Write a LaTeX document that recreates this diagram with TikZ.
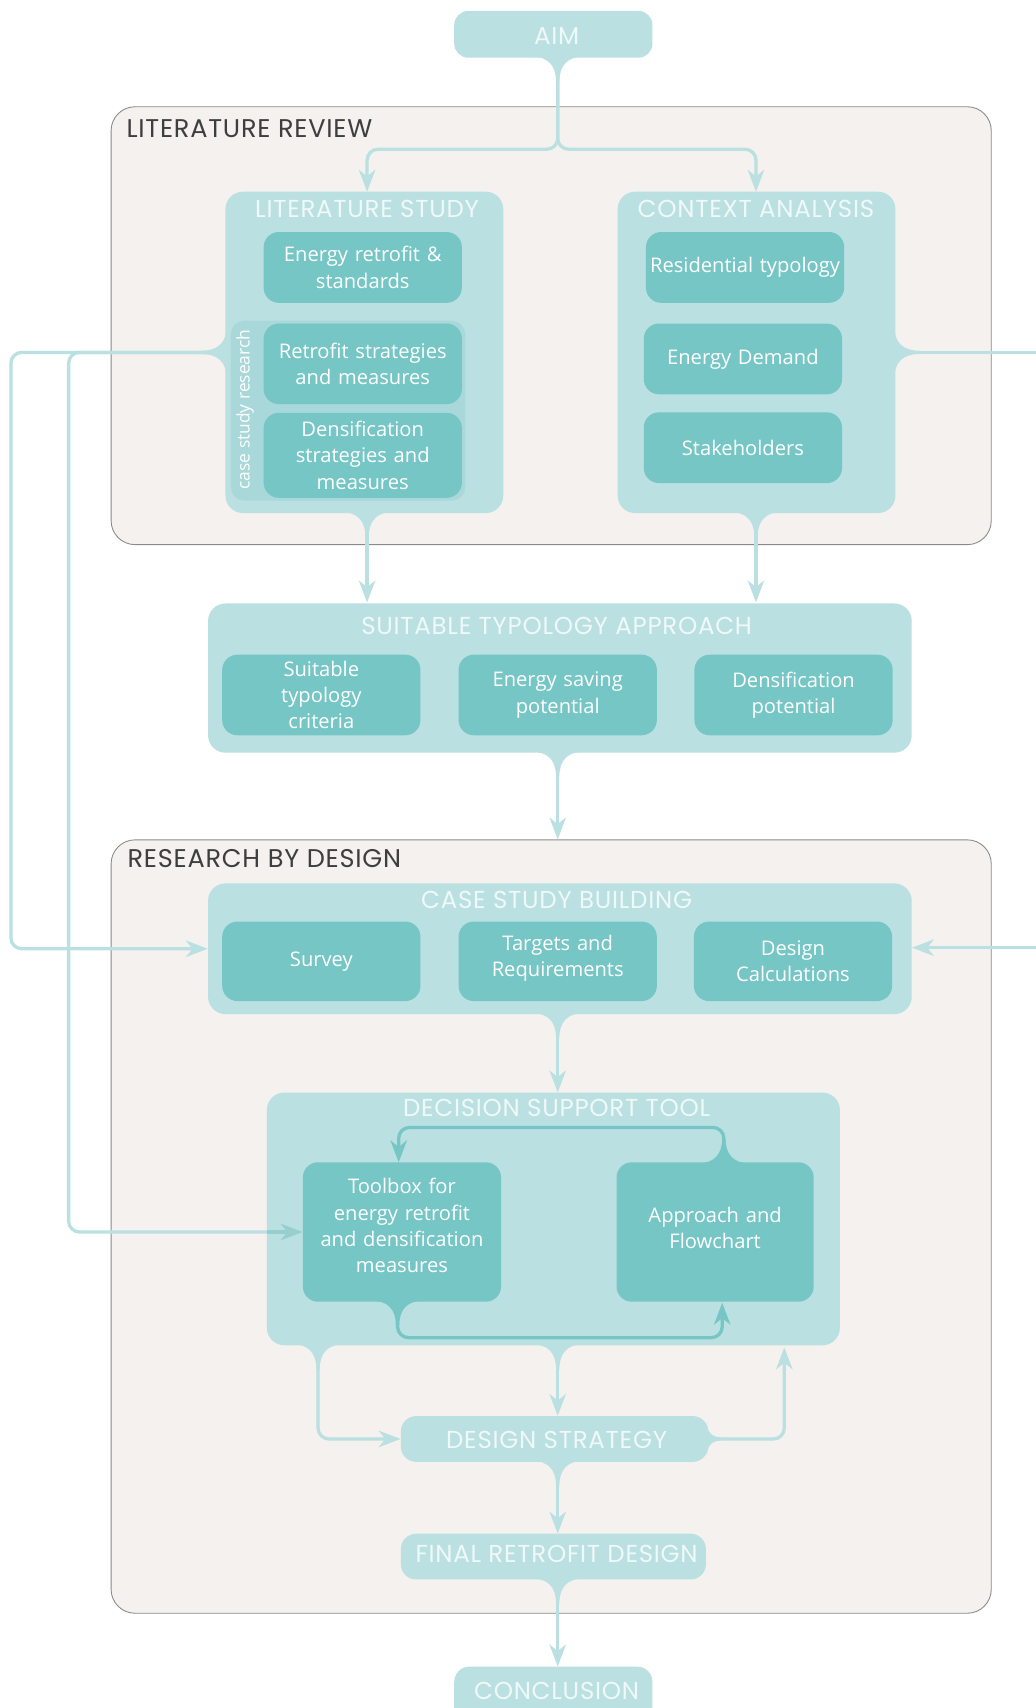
\documentclass[tikz,border=0pt]{standalone}
\usepackage{fontspec}
\setmainfont{Open Sans}
\newfontfamily\titlefont{Poppins}[LetterSpace=3]
\usetikzlibrary{arrows.meta}
\definecolor{panelbg}{HTML}{F4F1EE}
\definecolor{panelln}{HTML}{8A8A8A}
\definecolor{lteal}{HTML}{BAE0E1}
\definecolor{dteal}{HTML}{76C6C6}
\definecolor{mteal}{HTML}{A8D8D9}
\definecolor{ttxt}{HTML}{F0F8F8}
\definecolor{dtxt}{HTML}{3E3E3E}
\definecolor{arrmid}{HTML}{96CFCF}
\newcommand\bodyfont{\fontsize{18.5}{24}\selectfont}
\newcommand\ttlfont{\titlefont\fontsize{22.5}{26}\selectfont}
\newcommand\pttlfont{\titlefont\fontsize{23.5}{27}\selectfont}
% flares: x, y, colour
\newcommand\flD[3]{\fill[#3] (#1-24,#2-1) .. controls (#1-9,#2-1) and (#1-1.5,#2+7) .. (#1-1.5,#2+22) -- (#1+1.5,#2+22) .. controls (#1+1.5,#2+7) and (#1+9,#2-1) .. (#1+24,#2-1) -- cycle;}
\newcommand\flU[3]{\fill[#3] (#1-24,#2+1) .. controls (#1-9,#2+1) and (#1-1.5,#2-7) .. (#1-1.5,#2-22) -- (#1+1.5,#2-22) .. controls (#1+1.5,#2-7) and (#1+9,#2+1) .. (#1+24,#2+1) -- cycle;}
\newcommand\flL[3]{\fill[#3] (#1+1,#2-24) .. controls (#1+1,#2-9) and (#1-7,#2-1.5) .. (#1-22,#2-1.5) -- (#1-22,#2+1.5) .. controls (#1-7,#2+1.5) and (#1+1,#2+9) .. (#1+1,#2+24) -- cycle;}
\newcommand\flR[3]{\fill[#3] (#1-1,#2-24) .. controls (#1-1,#2-9) and (#1+7,#2-1.5) .. (#1+22,#2-1.5) -- (#1+22,#2+1.5) .. controls (#1+7,#2+1.5) and (#1-1,#2+9) .. (#1-1,#2+24) -- cycle;}
\newcommand\flRs[3]{\fill[#3] (#1-1,#2-15) .. controls (#1-1,#2-6) and (#1+4,#2-1.5) .. (#1+12,#2-1.5) -- (#1+12,#2+1.5) .. controls (#1+4,#2+1.5) and (#1-1,#2+6) .. (#1-1,#2+15) -- cycle;}
\tikzset{
  panel/.style={draw=panelln, fill=panelbg, line width=0.8pt, rounded corners=22pt, inner sep=0pt},
  ptitle/.style={text=dtxt, font=\pttlfont, inner sep=0pt, anchor=west},
  grp/.style={fill=lteal, rounded corners=16pt, inner sep=0pt},
  gtitle/.style={text=ttxt, font=\ttlfont, inner sep=0pt},
  item/.style={fill=dteal, rounded corners=14pt, inner sep=0pt, text=white, align=center,
     font=\bodyfont, text width=180pt},
  conn/.style={draw=lteal, line width=3pt},
  loopc/.style={draw=dteal, line width=3pt},
  tip/.style={-{Stealth[length=20pt,width=15pt,inset=6pt]}},
}
\begin{document}
\begin{tikzpicture}[x=1pt,y=-1pt]
\useasboundingbox (0,0) rectangle (951,1568);
\clip (0,0) rectangle (951,1568);
\fill[white] (0,0) rectangle (951,1568);
\coordinate (axis) at (512,0);

% panels
\node[panel, minimum width=808pt, minimum height=402pt] (litrev) at (506,299) {};
\node[ptitle] (litrev-t) at (116,118) {LITERATURE REVIEW};
\node[panel, minimum width=808pt, minimum height=710pt] (rbd) at (506,1126) {};
\node[ptitle] (rbd-t) at (117,788) {RESEARCH BY DESIGN};

% AIM
\node[grp, rounded corners=13pt, minimum width=182pt, minimum height=43pt] (aim) at (508,31.5) {};
\node[gtitle] (aim-t) at (511,33) {AIM};

% literature study
\node[grp, minimum width=255pt, minimum height=295pt] (litstudy) at (334.5,323.5) {};
\node[gtitle] (litstudy-t) at (337,192) {LITERATURE STUDY};
\node[item, minimum width=182pt, minimum height=65pt] (e1) at (333,245.5) {Energy retrofit \&\\standards};
\node[fill=mteal, rounded corners=12pt, minimum width=215pt, minimum height=165pt, inner sep=0pt] (csr) at (319.5,377) {};
\node[rotate=90, text=white, font=\fontsize{16}{18}\selectfont, inner sep=0pt] (csr-t) at (225,376) {case study research};
\node[item, minimum width=182pt, minimum height=74pt] (e2) at (333,334) {Retrofit strategies\\and measures};
\node[item, minimum width=182pt, minimum height=78pt] (e3) at (333,418) {Densification\\strategies and\\measures};

% context analysis
\node[grp, minimum width=255pt, minimum height=295pt] (ctx) at (694.5,323.5) {};
\node[gtitle] (ctx-t) at (694,192) {CONTEXT ANALYSIS};
\node[item, minimum width=182pt, minimum height=65pt] (c1) at (684,245.5) {Residential typology};
\node[item, minimum width=182pt, minimum height=65pt] (c2) at (682,329.5) {Energy Demand};
\node[item, minimum width=182pt, minimum height=65pt] (c3) at (682,411) {Stakeholders};

% suitable typology approach
\node[grp, minimum width=646pt, minimum height=137pt] (sta) at (514,622.5) {};
\node[gtitle] (sta-t) at (511,575) {SUITABLE TYPOLOGY APPROACH};
\node[item, minimum width=182pt, minimum height=74pt] (s1) at (295,638) {Suitable\\typology\\criteria};
\node[item, minimum width=182pt, minimum height=74pt] (s2) at (512,638) {Energy saving\\potential};
\node[item, minimum width=182pt, minimum height=74pt] (s3) at (728.5,638) {Densification\\potential};

% case study building
\node[grp, minimum width=646pt, minimum height=120pt] (csb) at (514,871) {};
\node[gtitle] (csb-t) at (511,826) {CASE STUDY BUILDING};
\node[item, minimum width=182pt, minimum height=73pt] (b1) at (295,882.5) {Survey};
\node[item, minimum width=182pt, minimum height=73pt] (b2) at (512,882.5) {Targets and\\Requirements\\[-14pt]\mbox{}};
\node[item, minimum width=182pt, minimum height=73pt] (b3) at (728,882.5) {Design\\Calculations};

% decision support tool
\node[grp, minimum width=526pt, minimum height=232pt] (dst) at (508,1119) {};
\node[gtitle] (dst-t) at (511,1017) {DECISION SUPPORT TOOL};
\node[item, minimum width=182pt, minimum height=128pt] (toolbox) at (369,1131) {Toolbox for\\energy retrofit\\and densification\\measures\\[-12pt]\mbox{}};
\node[item, minimum width=181pt, minimum height=128pt] (appr) at (656.5,1131) {Approach and\\Flowchart\\[-16pt]\mbox{}};

% design strategy, final, conclusion
\node[grp, rounded corners=14pt, minimum width=282pt, minimum height=42pt] (ds) at (509,1321) {};
\node[gtitle] (ds-t) at (511,1322) {DESIGN STRATEGY};
\node[grp, rounded corners=14pt, minimum width=280pt, minimum height=42pt] (frd) at (508,1429) {};
\node[gtitle] (frd-t) at (511,1427) {FINAL RETROFIT DESIGN};
\node[grp, rounded corners=14pt, minimum width=182pt, minimum height=56pt] (concl) at (508,1558) {};
\node[gtitle] (concl-t) at (511,1552) {CONCLUSION};

% flares
\flD{512}{53}{lteal}
\flD{337}{471}{lteal}
\flD{694}{471}{lteal}
\flL{207}{323.5}{lteal}
\flR{822}{323.5}{lteal}
\flD{512}{691}{lteal}
\flD{512}{931}{lteal}
\flD{292}{1235}{lteal}
\flD{512}{1235}{lteal}
\flD{365}{1195}{dteal}
\flU{664.5}{1067}{dteal}
\flRs{650}{1321}{lteal}
\flD{512}{1342}{lteal}
\flD{512}{1450}{lteal}

% connectors
\coordinate (split) at (512,137);
\draw[conn, tip, rounded corners=10pt] (axis |- aim.south) -- (split) -| (337,176);
\draw[conn, tip, rounded corners=10pt] (axis |- aim.south) -- (split) -| (694,176);
\draw[conn, tip] (litstudy.south -| 337,0) -- (337,553);
\draw[conn, tip] (ctx.south -| 694,0) -- (694,553);
\draw[conn, tip] (axis |- sta.south) -- (axis |- rbd.north);
\draw[conn, tip] (axis |- csb.south) -- (axis |- dst.north);

\coordinate (lA) at (10,323.5);
\coordinate (lB) at (63,323.5);
\draw[conn, tip, rounded corners=10pt] (litstudy.west) -- (lA) |- (csb.west);
\draw[conn, tip, rounded corners=10pt] (litstudy.west) -- (lB) |- (toolbox.west);
\draw[draw=arrmid, line width=3pt, tip] (dst.west |- toolbox.west) -- (toolbox.west);

\coordinate (rA) at (951,323.5);
\draw[conn] (ctx.east) -- (rA);
\coordinate (rB) at (951,870);
\draw[conn, tip] (rB) -- (csb.east |- rB);

\draw[loopc, tip, rounded corners=10pt] (664.5,1067) |- (366,1035) -- (366,1067);
\draw[loopc, tip, rounded corners=10pt] (365,1195) |- (663,1228) -- (663,1196);

\coordinate (dl) at (292,1235);
\coordinate (dr) at (720,1235);
\draw[conn, tip, rounded corners=10pt] (dl) |- (ds.west);
\draw[conn, tip] (axis |- dst.south) -- (axis |- ds.north);
\draw[conn, tip, rounded corners=10pt] (ds.east) -| ([yshift=-2pt]dr);
\draw[conn, tip] (axis |- ds.south) -- (axis |- frd.north);
\draw[conn, tip] (axis |- frd.south) -- (axis |- concl.north);
\end{tikzpicture}
\end{document}
